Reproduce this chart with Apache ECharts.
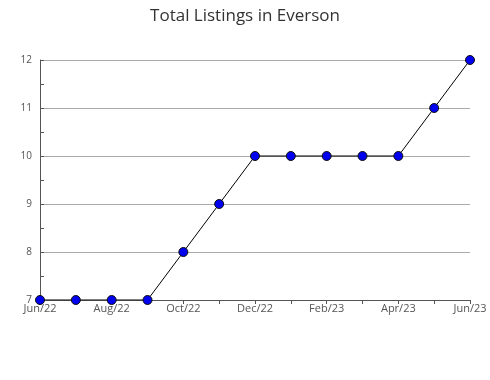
<!DOCTYPE html>
<html><head><meta charset="utf-8">
<script src="https://cdn.jsdelivr.net/npm/echarts@6/dist/echarts.min.js"></script>
<style>html,body{margin:0;padding:0;background:#fff}#c{width:490px;height:380px}</style>
</head><body><div id="c"></div>
<script>
const categories = ['Jun/22','Jul/22','Aug/22','Sep/22','Oct/22','Nov/22','Dec/22','Jan/23','Feb/23','Mar/23','Apr/23','May/23','Jun/23'];
const listings = [7,7,7,7,8,9,10,10,10,10,10,11,12];
const chart = echarts.init(document.getElementById('c'));
chart.setOption({
  animation:false,
  backgroundColor:'#fff',
  title:{text:'Total Listings in Everson',left:'center',top:3,textStyle:{fontFamily:'Open Sans',fontWeight:'normal',fontSize:17,color:'#333'}},
  grid:{left:40,right:20,top:60,bottom:80},
  xAxis:{type:'category',data:categories,boundaryGap:false,
    axisLine:{lineStyle:{color:'#555'}},
    axisTick:{interval:0,length:4,lineStyle:{color:'#555'}},
    axisLabel:{interval:1,margin:3,fontFamily:'Open Sans',fontSize:11,color:'#555'},
    splitLine:{show:false}},
  yAxis:{type:'value',min:7,max:12,interval:1,
    axisLine:{show:true,lineStyle:{color:'#555'}},
    axisTick:{show:true,inside:true,length:4,lineStyle:{color:'#555'}},
    minorTick:{show:true,splitNumber:2,length:4,lineStyle:{color:'#555'}},
    axisLabel:{margin:8,fontFamily:'Open Sans',fontSize:10,color:'#555'},
    splitLine:{lineStyle:{color:'#aaa'}}},
  series:[{type:'line',data:listings,symbol:'circle',symbolSize:9,
    lineStyle:{color:'#000',width:1},
    itemStyle:{color:'#0000ee',borderColor:'#111',borderWidth:1}}]
});
</script></body></html>
